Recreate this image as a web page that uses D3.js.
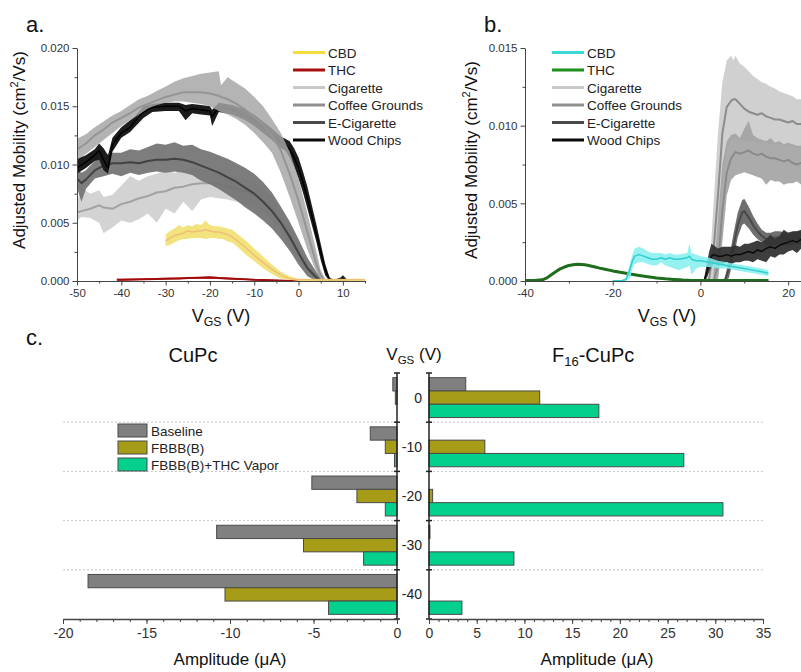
<!DOCTYPE html>
<html lang="en">
<head>
<meta charset="utf-8">
<title>Mobility and amplitude</title>
<script src="https://d3js.org/d3.v7.min.js"></script>
<style>
  body { margin: 0; background: #fff; }
  svg { display: block; font-family: Arial, "Liberation Sans", sans-serif; }
  .tick text { fill: #333; }
  .domain, .tick line { stroke: #444; }
</style>
</head>
<body>
<script>
// ---------- panel a (CuPc mobility), rows = [Vgs, mean, low, high] ----------
const aCBD = [[-30,0.0034,0.0030,0.0040],[-29,0.0037,0.0031,0.0043],[-28,0.0039,0.0033,0.0045],[-27,0.0040,0.0035,0.0048],
  [-26,0.0041,0.0036,0.0046],[-25,0.0043,0.0036,0.0048],[-24,0.0042,0.0037,0.0047],[-23,0.0043,0.0037,0.0049],
  [-22,0.0043,0.0037,0.0048],[-21,0.0044,0.0036,0.0052],[-20,0.0043,0.0037,0.0048],[-19,0.0042,0.0037,0.0047],
  [-18,0.0042,0.0036,0.0047],[-17,0.0041,0.0036,0.0046],[-16,0.0040,0.0034,0.0045],[-15,0.0038,0.0033,0.0044],
  [-14,0.0035,0.0030,0.0041],[-12,0.0029,0.0023,0.0035],[-10,0.0022,0.0017,0.0028],[-8,0.0016,0.0011,0.0021],
  [-6,0.0010,0.0006,0.0014],[-4,0.0005,0.0002,0.0008],[-2,0.0002,0.0001,0.0004],[0,0.0001,0,0.0002],
  [5,0.0001,0,0.0002],[10,0.0001,0,0.0002],[15,0.0001,0,0.0002]];
const aTHC = [[-41,0.0001,0.00005,0.0002],[-40,0.0001,0.00003,0.0002],[-38,0.00012,0.00005,0.0002],[-35,0.00015,0.00008,0.00022],
  [-32,0.00018,0.0001,0.00026],[-30,0.0002,0.00012,0.00028],[-27,0.00022,0.00014,0.0003],[-25,0.00025,0.00017,0.00033],
  [-22,0.00028,0.0002,0.00036],[-20,0.0003,0.0002,0.0004],[-18,0.00026,0.00018,0.00034],[-15,0.0002,0.00013,0.00027],
  [-12,0.00014,0.00008,0.0002],[-10,0.0001,0.00005,0.00016],[-6,0.00006,0.00002,0.0001],[-3,0.00003,0,0.00006],[0,0.00001,0,0.00003]];
const aCigarette = [[-50,0.0059,0.0052,0.0068],[-49,0.0060,0.0055,0.0080],[-47,0.0062,0.0054,0.0075],[-45,0.0065,0.0050,0.0078],
  [-44,0.0063,0.0041,0.0072],[-42,0.0062,0.0046,0.0074],[-40,0.0066,0.0052,0.0082],[-38,0.0068,0.0050,0.0090],
  [-36,0.0071,0.0053,0.0086],[-34,0.0073,0.0058,0.0090],[-32,0.0076,0.0050,0.0092],[-30,0.0077,0.0062,0.0095],
  [-28,0.0080,0.0058,0.0093],[-26,0.0081,0.0068,0.0095],[-24,0.0083,0.0060,0.0097],[-22,0.0084,0.0070,0.0096],
  [-20,0.0084,0.0072,0.0094],[-18,0.0083,0.0071,0.0093],[-16,0.0081,0.0070,0.0091],[-14,0.0079,0.0068,0.0089],
  [-12,0.0077,0.0066,0.0087],[-10,0.0074,0.0063,0.0084],[-8,0.0069,0.0059,0.0079],[-6,0.0062,0.0052,0.0072],
  [-4,0.0052,0.0043,0.0061],[-2,0.0039,0.0031,0.0048],[0,0.0025,0.0018,0.0032],[2,0.0012,0.0007,0.0017],
  [4,0.0004,0.0001,0.0007],[5,0.0001,0,0.0003],[6,0,0,0.0001]];
const aCoffee = [[-50,0.0113,0.0104,0.0122],[-48,0.0118,0.0109,0.0126],[-46,0.0125,0.0115,0.0132],[-44,0.0130,0.0121,0.0137],
  [-42,0.0136,0.0127,0.0142],[-40,0.0140,0.0133,0.0146],[-38,0.0144,0.0138,0.0151],[-36,0.0149,0.0143,0.0156],
  [-34,0.0152,0.0148,0.0159],[-32,0.0155,0.0151,0.0163],[-30,0.0158,0.0153,0.0167],[-28,0.0160,0.0154,0.0171],
  [-26,0.0162,0.0154,0.0174],[-24,0.0162,0.0153,0.0176],[-22,0.0162,0.0152,0.0178],[-20,0.0161,0.0150,0.0179],
  [-18,0.0159,0.0146,0.0180],[-17.5,0.0158,0.0145,0.0168],[-16,0.0156,0.0143,0.0175],[-14,0.0152,0.0139,0.0170],
  [-12,0.0147,0.0134,0.0165],[-10,0.0141,0.0127,0.0158],[-8,0.0134,0.0119,0.0150],[-6,0.0125,0.0110,0.0139],
  [-4,0.0112,0.0093,0.0127],[-2,0.0092,0.0072,0.0111],[0,0.0069,0.0050,0.0088],[2,0.0042,0.0027,0.0058],
  [4,0.0015,0.0008,0.0026],[5,0.0005,0.0001,0.0009],[6,0,0,0.0002]];
const aECig = [[-50,0.0088,0.0080,0.0096],[-49,0.0084,0.0068,0.0093],[-48,0.0087,0.0079,0.0095],[-46,0.0095,0.0088,0.0103],
  [-44,0.0099,0.0090,0.0108],[-42,0.0101,0.0092,0.0110],[-40,0.0101,0.0090,0.0110],[-38,0.0102,0.0093,0.0113],
  [-36,0.0101,0.0091,0.0112],[-34,0.0103,0.0093,0.0115],[-32,0.0104,0.0094,0.0118],[-30,0.0104,0.0093,0.0117],
  [-28,0.0105,0.0094,0.0119],[-26,0.0104,0.0093,0.0116],[-24,0.0102,0.0091,0.0117],[-22,0.0099,0.0086,0.0113],
  [-20,0.0096,0.0083,0.0111],[-18,0.0093,0.0079,0.0108],[-16,0.0089,0.0074,0.0105],[-14,0.0085,0.0069,0.0101],
  [-12,0.0080,0.0063,0.0097],[-10,0.0075,0.0058,0.0092],[-8,0.0068,0.0052,0.0085],[-6,0.0060,0.0045,0.0076],
  [-4,0.0050,0.0036,0.0064],[-2,0.0038,0.0026,0.0051],[0,0.0024,0.0014,0.0036],[2,0.0011,0.0004,0.0020],
  [4,0.0003,0,0.0008],[5,0.0001,0,0.0003],[6,0,0,0.0001]];
const aWood = [[-50,0.0097,0.0092,0.0105],[-48,0.0102,0.0097,0.0108],[-46,0.0108,0.0103,0.0113],[-45,0.0112,0.0104,0.0118],
  [-44,0.0104,0.0095,0.0114],[-43,0.0097,0.0092,0.0108],[-42,0.0117,0.0111,0.0123],[-40,0.0127,0.0123,0.0132],
  [-38,0.0132,0.0128,0.0138],[-37,0.0137,0.0132,0.0141],[-35,0.0145,0.0140,0.0150],[-33,0.0149,0.0145,0.0152],
  [-30,0.0150,0.0146,0.0153],[-27,0.0150,0.0146,0.0153],[-25.5,0.0146,0.0138,0.0151],[-24,0.0148,0.0144,0.0152],
  [-22,0.0147,0.0143,0.0151],[-20,0.0146,0.0142,0.0150],[-19.5,0.0141,0.0133,0.0147],[-18,0.0149,0.0145,0.0153],
  [-15,0.0147,0.0143,0.0151],[-12,0.0142,0.0138,0.0147],[-10,0.0138,0.0133,0.0143],[-8,0.0132,0.0127,0.0137],
  [-6,0.0126,0.0121,0.0131],[-4,0.0119,0.0114,0.0124],[-3,0.0117,0.0112,0.0122],[-2,0.0113,0.0106,0.0120],
  [-1,0.0106,0.0098,0.0114],[0,0.0097,0.0088,0.0106],[1,0.0085,0.0076,0.0094],[2,0.0071,0.0062,0.0081],
  [3,0.0056,0.0048,0.0065],[4,0.0041,0.0034,0.0049],[5,0.0025,0.0018,0.0032],[6,0.0010,0.0005,0.0015],
  [7,0.0001,0,0.0003],[8,0,0,0.0001],[9.5,0.0001,0,0.0003],[10,0.0002,0,0.0005],[11,0,0,0.0001]];

// ---------- panel b (F16-CuPc mobility) ----------
const bCBD = [[-20,0.00002,0,0.00005],[-18,0.00002,0,0.00005],[-17,0.0001,0,0.0002],[-16,0.0008,0.0002,0.0012],
  [-15.5,0.0013,0.0008,0.0017],[-15,0.0016,0.0011,0.0021],[-14,0.0017,0.0012,0.0022],[-13,0.0016,0.0012,0.0021],
  [-12,0.0015,0.0011,0.0019],[-11,0.0014,0.0010,0.0018],[-10,0.0014,0.0010,0.0018],[-9,0.0015,0.0012,0.0018],
  [-8,0.0014,0.0010,0.0017],[-7,0.0015,0.0009,0.0018],[-6,0.0014,0.0008,0.0017],[-5,0.0014,0.0007,0.0017],
  [-3,0.0015,0.0009,0.0018],[-2.5,0.0016,0.0010,0.0024],[-2,0.0014,0.0004,0.0018],[-1,0.0013,0.0008,0.0017],
  [0,0.0013,0.0009,0.0016],[2,0.0012,0.0009,0.0015],[4,0.0011,0.0008,0.0013],[6,0.0010,0.0008,0.0012],
  [8,0.0009,0.0007,0.0011],[10,0.0008,0.0006,0.0010],[12,0.0007,0.0005,0.0009],[14,0.0006,0.0004,0.0008],
  [15.5,0.0005,0.0003,0.0007]];
const bTHC = [[-40,0.00003,0,0.00008],[-38,0.00003,0,0.00008],[-36,0.00008,0.00002,0.00014],[-35,0.0002,0.00014,0.00026],
  [-34,0.0004,0.00034,0.00046],[-33,0.0006,0.00054,0.00066],[-32,0.00078,0.00072,0.00084],[-31,0.0009,0.00084,0.00096],
  [-30,0.001,0.00094,0.00106],[-29,0.00105,0.00099,0.00111],[-28,0.00108,0.00102,0.00114],[-27,0.00106,0.001,0.00112],
  [-26,0.00103,0.00097,0.00109],[-25,0.00097,0.00091,0.00103],[-24,0.0009,0.00084,0.00096],[-23,0.00083,0.00077,0.00089],
  [-22,0.00077,0.00071,0.00083],[-20,0.00065,0.00059,0.00071],[-18,0.00055,0.00049,0.00061],[-16,0.00045,0.00039,0.00051],
  [-14,0.00036,0.0003,0.00042],[-12,0.00028,0.00022,0.00034],[-10,0.0002,0.00014,0.00026],[-8,0.00014,0.00008,0.0002],
  [-6,0.0001,0.00004,0.00016],[-4,0.00006,0.00001,0.00011],[-2,0.00004,0,0.00009],[0,0.00003,0,0.00008],
  [5,0.00003,0,0.00008],[10,0.00003,0,0.00008],[15.5,0.00003,0,0.00008]];
const bCigarette = [[1.5,0,0,0],[2,0.0002,0,0.0003],[3,0.0020,0,0.0050],[4,0.0055,0.0020,0.0095],[5,0.0095,0.0060,0.0128],
  [6,0.0112,0.0085,0.0142],[7,0.0116,0.0090,0.0145],[7.5,0.0117,0.0091,0.0142],[8,0.0117,0.0092,0.0145],
  [9,0.0114,0.0091,0.0140],[10,0.0111,0.0090,0.0138],[11,0.0109,0.0090,0.0135],[12,0.0108,0.0090,0.0132],
  [13,0.0107,0.0089,0.0130],[14,0.0108,0.0089,0.0128],[15,0.0106,0.0089,0.0127],[16,0.0105,0.0088,0.0125],
  [17,0.0104,0.0088,0.0124],[18,0.0104,0.0088,0.0122],[19,0.0103,0.0087,0.0121],[20,0.0102,0.0087,0.0120],
  [21,0.0103,0.0087,0.0119],[22,0.0101,0.0086,0.0117],[23,0.0101,0.0086,0.0117],[24,0.0100,0.0086,0.0116]];
const bCoffee = [[3,0,0,0.0005],[4,0.0010,0,0.0040],[5,0.0045,0.0025,0.0075],[6,0.0070,0.0055,0.0090],[7,0.0079,0.0065,0.0094],
  [8,0.0083,0.0068,0.0095],[9,0.0082,0.0069,0.0092],[10,0.0083,0.0070,0.0098],[11,0.0084,0.0069,0.0103],
  [12,0.0082,0.0068,0.0094],[13,0.0081,0.0067,0.0092],[14,0.0082,0.0066,0.0091],[15,0.0080,0.0062,0.0090],
  [16,0.0079,0.0065,0.0092],[17,0.0079,0.0064,0.0089],[18,0.0078,0.0064,0.0090],[19,0.0077,0.0062,0.0088],
  [20,0.0078,0.0063,0.0089],[21,0.0076,0.0063,0.0088],[22,0.0075,0.0064,0.0087],[23,0.0076,0.0062,0.0087],
  [24,0.0075,0.0062,0.0086]];
const bECig = [[5.5,0,0,0.0001],[6.5,0.0008,0.0002,0.0014],[7.5,0.0022,0.0014,0.0030],[8.5,0.0036,0.0028,0.0044],
  [9.5,0.0044,0.0036,0.0052],[10,0.0045,0.0037,0.0053],[11,0.0041,0.0034,0.0048],[12,0.0036,0.0030,0.0042],
  [13,0.0032,0.0027,0.0037],[14,0.0029,0.0025,0.0033],[15,0.0027,0.0023,0.0031],[16,0.0027,0.0023,0.0031],
  [17,0.0028,0.0023,0.0032],[18,0.0028,0.0024,0.0032],[20,0.0027,0.0023,0.0031],[22,0.0028,0.0024,0.0032],
  [24,0.0027,0.0023,0.0031]];
const bWood = [[-5,0,0,0.0001],[0.8,0,0,0.0001],[1.5,0.0006,0.0002,0.0012],[2,0.0012,0.0006,0.0019],[2.5,0.0016,0.0009,0.0024],
  [3,0.0017,0.0011,0.0023],[4,0.0016,0.0011,0.0021],[5,0.0016,0.0011,0.0022],[6,0.0017,0.0012,0.0022],
  [7,0.0016,0.0011,0.0022],[8,0.0017,0.0012,0.0023],[9,0.0017,0.0012,0.0022],[10,0.0018,0.0013,0.0024],
  [11,0.0019,0.0013,0.0024],[12,0.0018,0.0012,0.0025],[13,0.0020,0.0014,0.0026],[14,0.0019,0.0013,0.0025],
  [15,0.0021,0.0012,0.0027],[16,0.0022,0.0016,0.0030],[17,0.0021,0.0015,0.0027],[18,0.0023,0.0017,0.0029],
  [19,0.0024,0.0017,0.0033],[20,0.0025,0.0019,0.0031],[21,0.0026,0.0020,0.0032],[22,0.0025,0.0018,0.0032],
  [23,0.0027,0.0021,0.0033],[24,0.0026,0.0020,0.0032]];

const legendNames = ["CBD", "THC", "Cigarette", "Coffee Grounds", "E-Cigarette", "Wood Chips"];

// ---------- panel c (amplitude bars) ----------
const vgsLevels = ["0", "-10", "-20", "-30", "-40"];
const barSeries = ["Baseline", "FBBB(B)", "FBBB(B)+THC Vapor"];
const cupcBaseline = [-0.25, -1.6, -5.1, -10.8, -18.5];
const cupcFBBB = [-0.1, -0.7, -2.4, -5.6, -10.3];
const cupcTHC = [0, -0.15, -0.7, -2.0, -4.1];
const f16Baseline = [3.85, 0, 0, 0.1, 0];
const f16FBBB = [11.6, 5.85, 0.38, 0, 0];
const f16THC = [17.8, 26.7, 30.8, 8.9, 3.45];

const svg = d3.select("body").append("svg").attr("width", 801).attr("height", 672);
const hy = d => String(d);   // plain hyphen minus like the original

function label(x, y, txt, size, anchor) {
  return svg.append("text").attr("x", x).attr("y", y).attr("font-size", size)
    .attr("text-anchor", anchor || "start").attr("fill", "#111").text(txt);
}

function vgsTitle(x, y, size) {
  const t = svg.append("text").attr("x", x).attr("y", y).attr("font-size", size)
    .attr("text-anchor", "middle").attr("fill", "#111");
  t.append("tspan").text("V");
  t.append("tspan").attr("font-size", size * 0.68).attr("dy", size * 0.22).text("GS");
  t.append("tspan").attr("dy", -size * 0.22).text(" (V)");
}

function mobilityTitle(x, y) {
  const t = svg.append("text").attr("transform", `translate(${x},${y}) rotate(-90)`)
    .attr("font-size", 17).attr("text-anchor", "middle").attr("fill", "#111");
  t.append("tspan").text("Adjusted Mobility (cm");
  t.append("tspan").attr("font-size", 11).attr("dy", -7).text("2");
  t.append("tspan").attr("dy", 7).text("/Vs)");
}

function mobilityPanel(id, x, y, series, xMajor, xMinor, yMajor, yMinor) {
  const [x0, x1] = x.range(), [y0, y1] = y.range();
  svg.append("clipPath").attr("id", id).append("rect")
    .attr("x", x0).attr("y", y1 - 4).attr("width", Math.min(x1, 801) - x0).attr("height", y0 - y1 + 4);
  const plot = svg.append("g").attr("clip-path", `url(#${id})`);
  const area = d3.area().x(d => x(d[0])).y0(d => y(d[2])).y1(d => y(d[3]));
  const line = d3.line().x(d => x(d[0])).y(d => y(d[1]));
  series.forEach(s => {
    plot.append("path").datum(s.rows).attr("fill", s.band).attr("fill-opacity", s.op).attr("d", area);
    plot.append("path").datum(s.rows).attr("fill", "none").attr("stroke", s.line)
      .attr("stroke-width", s.w).attr("stroke-linejoin", "round").attr("d", line);
  });

  const fs = 11.5;
  svg.append("g").attr("transform", `translate(0,${y0})`)
    .call(d3.axisBottom(x).tickValues(xMinor).tickSize(2.5).tickFormat(""))
    .call(g => g.select(".domain").remove());
  svg.append("g").attr("transform", `translate(0,${y0})`)
    .call(d3.axisBottom(x).tickValues(xMajor).tickSize(4.5).tickSizeOuter(0).tickPadding(3).tickFormat(hy))
    .attr("font-size", fs);
  svg.append("g").attr("transform", `translate(${x0},0)`)
    .call(d3.axisLeft(y).tickValues(yMinor).tickSize(2.5).tickFormat(""))
    .call(g => g.select(".domain").remove());
  svg.append("g").attr("transform", `translate(${x0},0)`)
    .call(d3.axisLeft(y).tickValues(yMajor).tickSize(4.5).tickSizeOuter(0).tickFormat(d3.format(".3f")))
    .attr("font-size", fs);
}

function mobilityLegend(x0, y0, colors) {
  legendNames.forEach((n, i) => {
    const yy = y0 + i * 17.5;
    svg.append("line").attr("x1", x0).attr("x2", x0 + 32).attr("y1", yy).attr("y2", yy)
      .attr("stroke", colors[i]).attr("stroke-width", 3);
    label(x0 + 35, yy + 5, n, 13.5).attr("fill", "#222");
  });
}

// ----- panel a -----
const xA = d3.scaleLinear().domain([-50, 15]).range([77, 365]);
const yA = d3.scaleLinear().domain([0, 0.02]).range([281, 48]);
mobilityPanel("clipA", xA, yA, [
  { rows: aTHC, band: "#c03030", op: 1, line: "#a00c0c", w: 2 },
  { rows: aCigarette, band: "#d3d3d3", op: 1, line: "#a2a2a2", w: 2 },
  { rows: aECig, band: "#727272", op: 0.92, line: "#424242", w: 2 },
  { rows: aWood, band: "#1c1c1c", op: 1, line: "#000", w: 1.5 },
  { rows: aCoffee, band: "#a6a6a6", op: 0.84, line: "#959595", w: 2 },
  { rows: aCBD, band: "#f1e070", op: 0.9, line: "#efbf78", w: 1.5 }
], [-50, -40, -30, -20, -10, 0, 10], [-45, -35, -25, -15, -5, 5, 15],
   [0, 0.005, 0.01, 0.015, 0.02], [0.0025, 0.0075, 0.0125, 0.0175]);
mobilityLegend(293, 52.5, ["#f3dc3c", "#a80f0f", "#c8c8c8", "#909090", "#4a4a4a", "#0a0a0a"]);
mobilityTitle(25, 150);
vgsTitle(221, 322, 18);
label(26, 32, "a.", 22);

// ----- panel b -----
const xB = d3.scaleLinear().domain([-40, 30]).range([525, 832]);
const yB = d3.scaleLinear().domain([0, 0.015]).range([281, 48]);
mobilityPanel("clipB", xB, yB, [
  { rows: bCigarette, band: "#d0d0d0", op: 1, line: "#8c8c8c", w: 2 },
  { rows: bCoffee, band: "#a2a2a2", op: 0.9, line: "#8a8a8a", w: 2 },
  { rows: bECig, band: "#666", op: 0.95, line: "#4a4a4a", w: 2 },
  { rows: bWood, band: "#333", op: 0.95, line: "#0a0a0a", w: 1.5 },
  { rows: bTHC, band: "#2a8a2a", op: 1, line: "#1e6e1e", w: 3 },
  { rows: bCBD, band: "#84eeee", op: 0.85, line: "#30cece", w: 1.5 }
], [-40, -20, 0, 20], [-30, -10, 10, 30],
   [0, 0.005, 0.01, 0.015], [0.0025, 0.0075, 0.0125]);
mobilityLegend(552, 52.5, ["#3cd6d6", "#1d8f1d", "#c8c8c8", "#8f8f8f", "#4a4a4a", "#0a0a0a"]);
mobilityTitle(477, 160);
vgsTitle(667, 322, 18);
label(484, 32, "b.", 22);

// ----- panel c -----
label(26, 345, "c.", 22);
const barColors = ["#808080", "#a69c18", "#02d08c"];
const yC = d3.scaleBand().domain(vgsLevels).range([373, 619]);
const yIn = d3.scaleBand().domain(barSeries).range([0, yC.bandwidth()]).paddingOuter(0.35);
const xL = d3.scaleLinear().domain([-20, 0]).range([63, 397]);
const xR = d3.scaleLinear().domain([0, 35]).range([429, 763]);

function barChart(x, values, axisX, major) {
  const [r0, r1] = x.range();
  const g = svg.append("g");
  // dashed separators between voltage groups
  g.selectAll(".sep").data(vgsLevels.slice(1)).join("line")
    .attr("x1", r0).attr("x2", r1).attr("y1", d => yC(d)).attr("y2", d => yC(d))
    .attr("stroke", "#c8c8c8").attr("stroke-dasharray", "2,2");
  values.forEach((vals, j) => {
    g.selectAll(null).data(vals.map((v, i) => ({ v, lvl: vgsLevels[i] })).filter(d => d.v !== 0))
      .join("rect")
      .attr("x", d => Math.min(x(d.v), x(0)))
      .attr("width", d => Math.abs(x(d.v) - x(0)))
      .attr("y", d => yC(d.lvl) + yIn(barSeries[j]))
      .attr("height", yIn.bandwidth())
      .attr("fill", barColors[j]).attr("stroke", "#4a4a4a").attr("stroke-width", 1);
  });
  // category axis, ticks on group boundaries
  g.append("line").attr("x1", axisX).attr("x2", axisX).attr("y1", 373).attr("y2", 619).attr("stroke", "#222").attr("stroke-width", 1.5);
  g.selectAll(".bt").data(vgsLevels.map(d => yC(d)).concat([619])).join("line")
    .attr("x1", axisX - 3).attr("x2", axisX + 3).attr("y1", d => d).attr("y2", d => d)
    .attr("stroke", "#222").attr("stroke-width", 1.5);
  // value axis
  const minor = d3.range(x.domain()[0], x.domain()[1] + 1, 1);
  svg.append("g").attr("transform", "translate(0,619)")
    .call(d3.axisBottom(x).tickValues(minor).tickSize(3).tickFormat(""))
    .call(a => a.select(".domain").remove());
  svg.append("g").attr("transform", "translate(0,619)")
    .call(d3.axisBottom(x).tickValues(major).tickSize(5).tickSizeOuter(0).tickPadding(4).tickFormat(hy))
    .attr("font-size", 14)
    .call(a => a.select(".domain").attr("stroke", "#222").attr("stroke-width", 1.5));
}

barChart(xL, [cupcBaseline, cupcFBBB, cupcTHC], 397, [-20, -15, -10, -5, 0]);
barChart(xR, [f16Baseline, f16FBBB, f16THC], 429, [0, 5, 10, 15, 20, 25, 30, 35]);

vgsLevels.forEach(d => label(422, yC(d) + yC.bandwidth() / 2 + 5, d, 14, "end").attr("fill", "#222"));

label(193, 362, "CuPc", 20, "middle");
const f16 = svg.append("text").attr("x", 552).attr("y", 362).attr("font-size", 20).attr("fill", "#111");
f16.append("tspan").text("F");
f16.append("tspan").attr("font-size", 13).attr("dy", 4).text("16");
f16.append("tspan").attr("dy", -4).text("-CuPc");
vgsTitle(414, 360, 17);

label(230, 665, "Amplitude (\u03bcA)", 17, "middle");
label(597, 665, "Amplitude (\u03bcA)", 17, "middle");

// legend for the bars
barSeries.forEach((n, i) => {
  const yy = 424 + i * 17;
  svg.append("rect").attr("x", 118).attr("y", yy).attr("width", 29).attr("height", 13)
    .attr("fill", barColors[i]).attr("stroke", "#4a4a4a");
  label(151, yy + 11.5, n, 13.5).attr("fill", "#222");
});
</script>
</body>
</html>
